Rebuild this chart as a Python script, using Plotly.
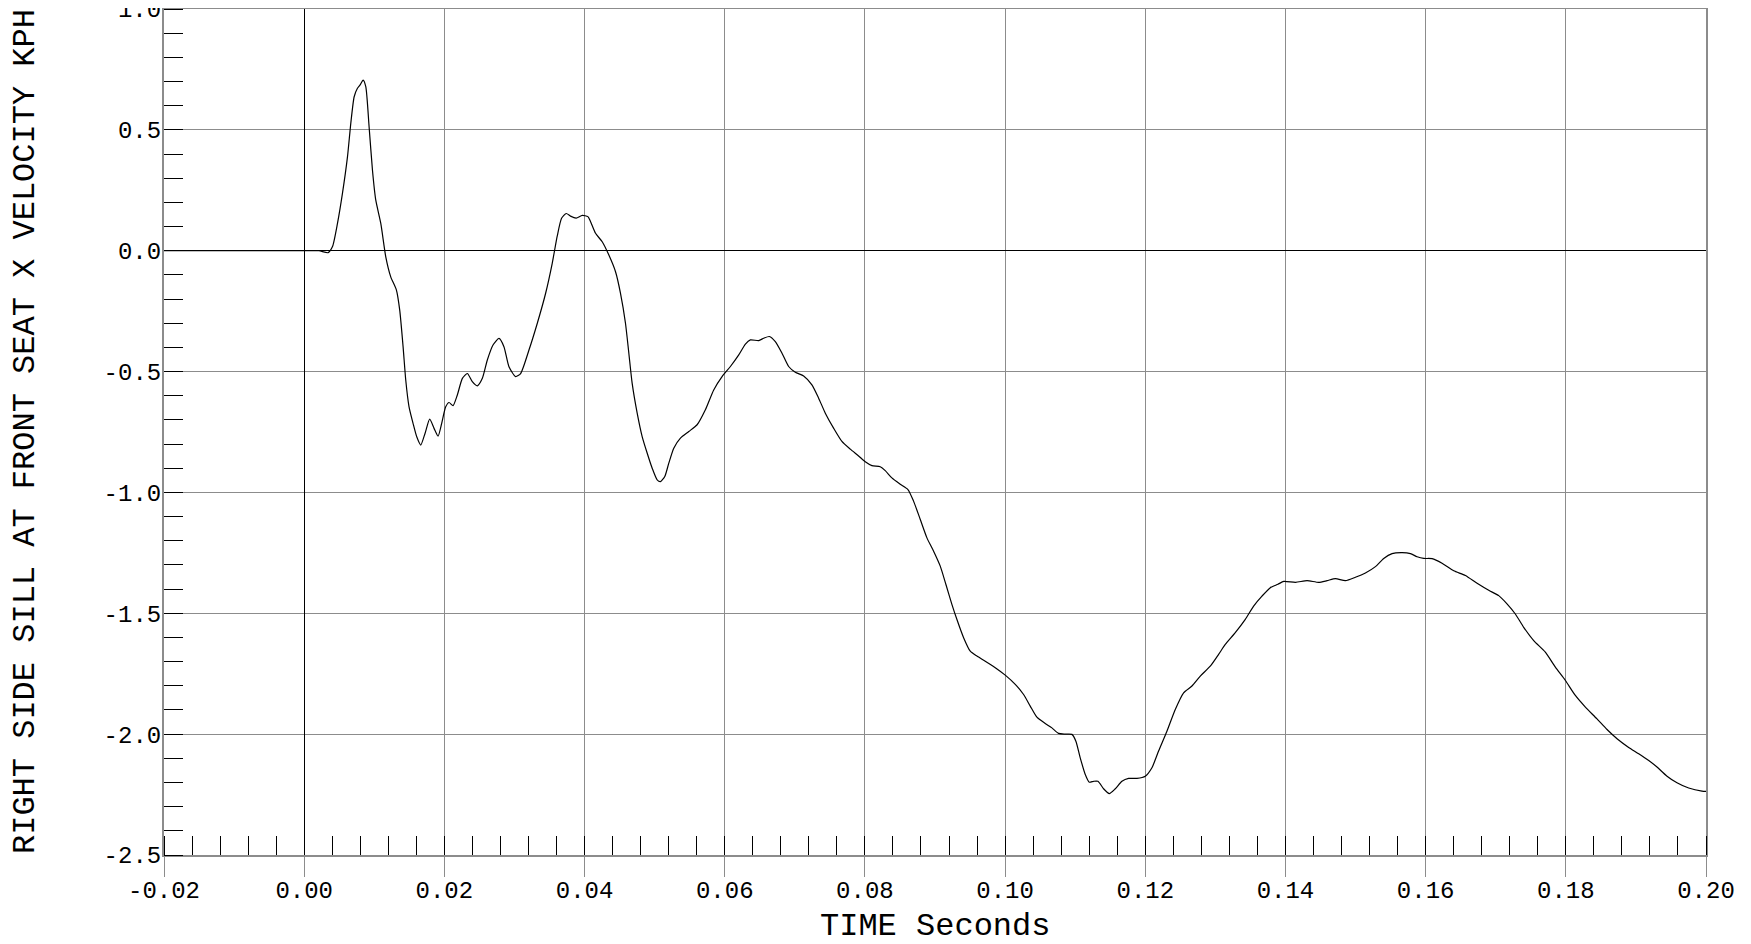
import plotly.graph_objects as go

# ---- data ----
time_s = [
    -0.02, 0.0, 0.0021, 0.00342, 0.00404, 0.00475, 0.00546, 0.00618, 0.00665, 0.00713,
    0.0076, 0.00798, 0.00841, 0.00879, 0.00926, 0.00974, 0.01021, 0.01093, 0.01164, 0.01235,
    0.01316, 0.01363, 0.01411, 0.01449, 0.01496, 0.01553, 0.01606, 0.01663, 0.01724, 0.01791,
    0.01853, 0.0191, 0.01962, 0.02019, 0.02067, 0.02124, 0.02185, 0.02257, 0.02328, 0.02399,
    0.0247, 0.02542, 0.02613, 0.02694, 0.02779, 0.0285, 0.02922, 0.03017, 0.03088, 0.03207,
    0.03325, 0.03444, 0.03539, 0.0361, 0.03672, 0.03739, 0.038, 0.03881, 0.03967, 0.04048,
    0.04086, 0.04157, 0.04252, 0.04347, 0.04442, 0.04513, 0.04584, 0.04632, 0.04679, 0.04751,
    0.04822, 0.04893, 0.04964, 0.05036, 0.05083, 0.05145, 0.05202, 0.05273, 0.05368, 0.05487,
    0.05606, 0.05724, 0.05843, 0.05962, 0.06081, 0.062, 0.06295, 0.06366, 0.06485, 0.06556,
    0.06637, 0.06722, 0.06817, 0.06912, 0.07007, 0.07126, 0.07244, 0.0734, 0.07435, 0.07553,
    0.07672, 0.07791, 0.0791, 0.08005, 0.081, 0.08219, 0.0829, 0.08385, 0.08504, 0.08614,
    0.08694, 0.0879, 0.08885, 0.0898, 0.09075, 0.09156, 0.09241, 0.09313, 0.09408, 0.09503,
    0.09598, 0.09717, 0.0986, 0.10002, 0.10145, 0.10264, 0.10359, 0.10454, 0.10573, 0.10668,
    0.10763, 0.10858, 0.10953, 0.1101, 0.11072, 0.11144, 0.11201, 0.11263, 0.11325, 0.11405,
    0.11486, 0.11572, 0.11667, 0.11762, 0.11881, 0.12, 0.12095, 0.1219, 0.12309, 0.12428,
    0.12547, 0.12666, 0.12785, 0.12927, 0.13046, 0.13141, 0.13284, 0.13427, 0.13546, 0.13665,
    0.13784, 0.13893, 0.13976, 0.14143, 0.14309, 0.14475, 0.14594, 0.14713, 0.14856, 0.14998,
    0.15141, 0.15284, 0.15402, 0.15521, 0.15664, 0.15783, 0.15878, 0.15973, 0.16092, 0.16234,
    0.16401, 0.16567, 0.16734, 0.169, 0.17043, 0.17161, 0.1728, 0.17399, 0.17542, 0.17708,
    0.17851, 0.17994, 0.18136, 0.18279, 0.18445, 0.18588, 0.18731, 0.18897, 0.1904, 0.19183,
    0.19301, 0.19444, 0.19586, 0.19753, 0.19943, 0.2,
]

velocity_kph = [
    0.0, 0.0, 0.0, -0.008, 0.017, 0.113, 0.237, 0.389, 0.527, 0.637,
    0.672, 0.686, 0.706, 0.679, 0.513, 0.334, 0.21, 0.113, -0.025, -0.108,
    -0.163, -0.246, -0.397, -0.535, -0.646, -0.714, -0.77, -0.804, -0.756, -0.697,
    -0.735, -0.767, -0.714, -0.646, -0.628, -0.641, -0.597, -0.528, -0.508, -0.542,
    -0.559, -0.528, -0.452, -0.39, -0.363, -0.397, -0.48, -0.521, -0.508, -0.411,
    -0.301, -0.177, -0.052, 0.06, 0.134, 0.154, 0.143, 0.135, 0.146, 0.141,
    0.12, 0.072, 0.037, -0.018, -0.087, -0.176, -0.3, -0.424, -0.548, -0.672,
    -0.769, -0.837, -0.899, -0.948, -0.955, -0.934, -0.879, -0.817, -0.775, -0.748,
    -0.72, -0.658, -0.576, -0.521, -0.479, -0.431, -0.386, -0.369, -0.372, -0.362,
    -0.355, -0.376, -0.424, -0.479, -0.503, -0.518, -0.555, -0.61, -0.672, -0.734,
    -0.789, -0.821, -0.849, -0.873, -0.889, -0.894, -0.91, -0.94, -0.966, -0.988,
    -1.036, -1.112, -1.188, -1.243, -1.305, -1.381, -1.463, -1.526, -1.601, -1.657,
    -1.677, -1.698, -1.725, -1.756, -1.794, -1.836, -1.884, -1.93, -1.956, -1.974,
    -1.997, -2.0, -2.001, -2.029, -2.098, -2.167, -2.199, -2.195, -2.195, -2.226,
    -2.246, -2.226, -2.195, -2.183, -2.183, -2.174, -2.139, -2.07, -1.988, -1.898,
    -1.829, -1.801, -1.76, -1.719, -1.67, -1.629, -1.58, -1.525, -1.47, -1.429,
    -1.394, -1.38, -1.368, -1.372, -1.365, -1.372, -1.365, -1.357, -1.365, -1.351,
    -1.333, -1.307, -1.273, -1.253, -1.249, -1.253, -1.266, -1.273, -1.274, -1.293,
    -1.324, -1.344, -1.376, -1.405, -1.427, -1.461, -1.503, -1.558, -1.613, -1.661,
    -1.723, -1.778, -1.84, -1.888, -1.937, -1.981, -2.019, -2.055, -2.081, -2.109,
    -2.136, -2.174, -2.201, -2.223, -2.236, -2.237,
]
assert len(time_s) == len(velocity_kph)

x_tick_vals = [-0.02, 0.0, 0.02, 0.04, 0.06, 0.08, 0.10, 0.12, 0.14, 0.16, 0.18, 0.20]
x_tick_text = ["-0.02", "0.00", "0.02", "0.04", "0.06", "0.08", "0.10", "0.12", "0.14", "0.16", "0.18", "0.20"]
y_tick_vals = [-2.5, -2.0, -1.5, -1.0, -0.5, 0.0, 0.5, 1.0]
y_tick_text = ["-2.5", "-2.0", "-1.5", "-1.0", "-0.5", "0.0", "0.5", "1.0"]

x_title = "TIME Seconds"
y_title = "RIGHT SIDE SILL AT FRONT SEAT X VELOCITY KPH"

FONT = "Courier New, Liberation Mono, monospace"
GRID = "#8c8c8c"

fig = go.Figure()
fig.add_trace(go.Scatter(
    x=time_s, y=velocity_kph, mode="lines",
    line=dict(color="black", width=1.2, shape="spline", smoothing=0.6),
    showlegend=False, hoverinfo="x+y",
))

# the page body adds an 8px offset; margins compensate so the plot area
# lands at x 164..1706, y 9..855 in the window
fig.update_layout(
    width=1751, height=944,
    margin=dict(l=156, r=53, t=1, b=97),
    paper_bgcolor="white", plot_bgcolor="white",
    font=dict(family=FONT, color="black", size=24),
    xaxis=dict(
        range=[-0.02, 0.20], tickmode="array", tickvals=x_tick_vals, ticktext=x_tick_text,
        automargin=False, ticklabelstandoff=-8,
        showgrid=True, gridcolor=GRID, gridwidth=1,
        zeroline=True, zerolinecolor="black", zerolinewidth=1,
        showline=True, linecolor=GRID, linewidth=2, mirror=True,
        ticks="outside", ticklen=20, tickcolor=GRID, tickwidth=1,
        tickfont=dict(family=FONT, size=24, color="black"),
        minor=dict(tickmode="linear", tick0=-0.02, dtick=0.004, ticks="inside",
                   ticklen=19, tickcolor="black", tickwidth=1, showgrid=False),
    ),
    yaxis=dict(
        range=[-2.5, 1.0], tickmode="array", tickvals=y_tick_vals, ticktext=y_tick_text,
        automargin=False, ticklabeloverflow="allow", ticklabelstandoff=-4,
        showgrid=True, gridcolor=GRID, gridwidth=1,
        zeroline=True, zerolinecolor="black", zerolinewidth=1.3,
        showline=True, linecolor=GRID, linewidth=2, mirror=True,
        ticks="", tickfont=dict(family=FONT, size=24, color="black"),
        minor=dict(tickmode="linear", tick0=-2.5, dtick=0.1, ticks="inside",
                   ticklen=19, tickcolor="black", tickwidth=1, showgrid=False),
    ),
    annotations=[
        dict(text=x_title, xref="paper", yref="paper", x=0.5, y=(855 - 926) / 846,
             xanchor="center", yanchor="middle", showarrow=False,
             font=dict(family=FONT, size=32, color="black")),
        dict(text=y_title, xref="paper", yref="paper", x=(25 - 164) / 1542, y=0.5,
             xanchor="center", yanchor="middle", textangle=-90, showarrow=False,
             font=dict(family=FONT, size=32, color="black")),
    ],
)

fig.write_html("out.html")
